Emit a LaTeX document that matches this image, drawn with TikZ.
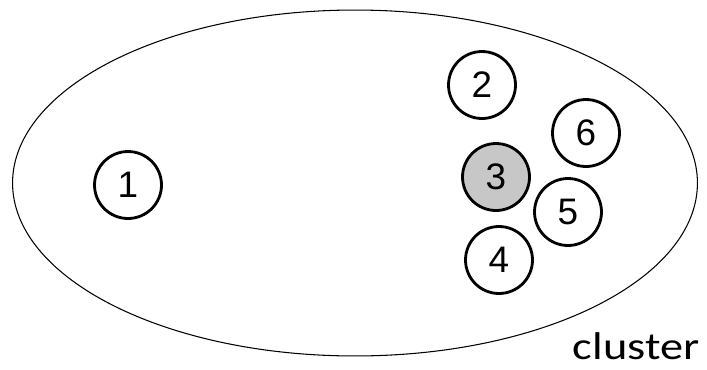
\documentclass[tikz,border=0pt]{standalone}
\usepackage{fontspec}
\setmainfont{Liberation Sans}
\newfontfamily\labelfont{Carlito}
\usetikzlibrary{shapes.geometric}
\begin{document}
\begin{tikzpicture}[
        x=0.02cm, y=-0.02cm,
        font=\fontsize{21}{25}\selectfont,
        elem/.style={draw, circle, line width=1.6pt, minimum size=1.34cm, inner sep=0pt},
        seed/.style={elem, fill=black!22},
        clus/.style={draw, ellipse, line width=0.6pt, minimum width=13.7cm, minimum height=6.92cm}]
    \useasboundingbox (0,0) rectangle (707,369);

    % ---------- the cluster ----------
    \node[clus] (cl) at (355,183) {};
    \node[anchor=base east, inner sep=1pt, xscale=1.2, font=\labelfont\fontsize{22}{26}\selectfont] (cllabel) at (702,359) {cluster};

    % ---------- the points ----------
    \node[elem] (n1) at (128,185) {1};
    \node[elem] (n2) at (482,85) {2};
    \node[seed] (n3) at (496,177) {3};
    \node[elem] (n4) at (499,260) {4};
    \node[elem] (n5) at (568,212) {5};
    \node[elem] (n6) at (586,133) {6};
\end{tikzpicture}
\end{document}
